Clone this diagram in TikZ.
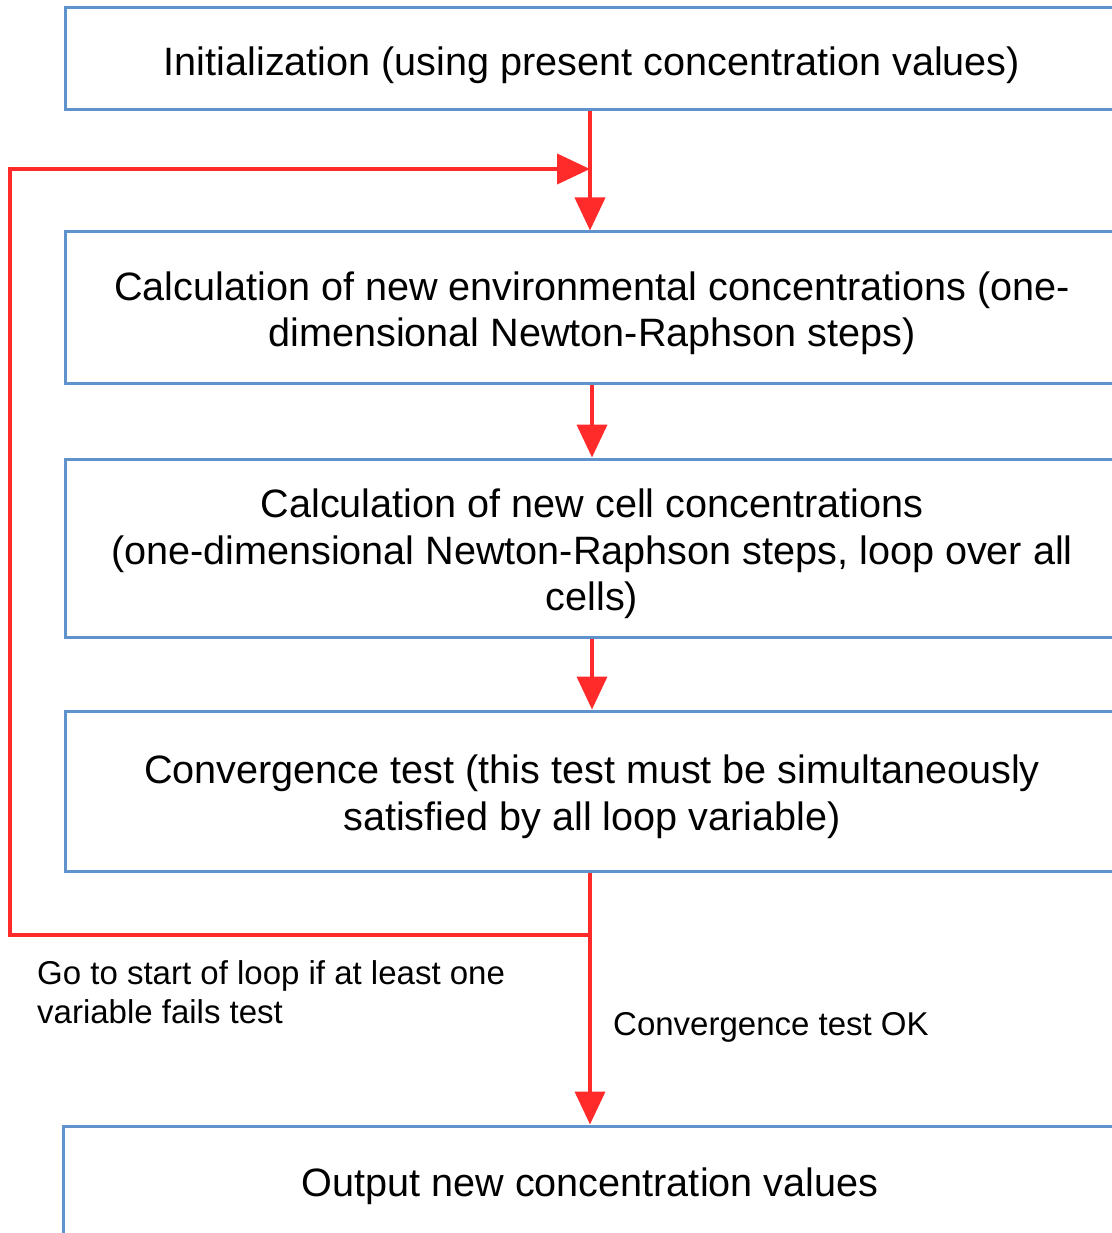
\documentclass[tikz,border=0pt]{standalone}
\usepackage{fontspec}
\setmainfont{Liberation Sans}
\usetikzlibrary{arrows.meta}

\definecolor{boxblue}{RGB}{96,146,203}
\definecolor{flowred}{RGB}{255,42,42}

\tikzset{
  stepbox/.style={draw=boxblue, line width=3pt, minimum width=1054pt, inner sep=0pt},
  steptext/.style={inner sep=0pt, align=center, yshift=-6pt,
    font=\fontsize{39.6}{46.5}\selectfont},
  flow/.style={draw=flowred, line width=4pt, -{Triangle[width=30pt,length=33pt]}},
  note/.style={inner sep=0pt, align=left, font=\fontsize{33}{39.5}\selectfont}
}

\begin{document}
\begin{tikzpicture}[x=1pt,y=-1pt]
        \useasboundingbox (0,0) rectangle (1111,1233);
        % boxes
        \node[stepbox, minimum height=102pt] (init) at (592,59) {};
        \node[stepbox, minimum height=151pt] (envconc) at (592,307.5) {};
        \node[stepbox, minimum height=178pt] (cellconc) at (592,548) {};
        \node[stepbox, minimum height=160pt] (convtest) at (592,791) {};
        \node[stepbox, minimum height=108pt] (output) at (590,1180) {};
        % box texts
        \node[steptext] (inittext) at (init)
              {Initialization (using present concentration values)};
        \node[steptext] (envconctext) at (envconc)
              {Calculation of new environmental concentrations (one-\\dimensional Newton-Raphson steps)};
        \node[steptext] (cellconctext) at (cellconc)
              {Calculation of new cell concentrations\\(one-dimensional Newton-Raphson steps, loop over all\\cells)};
        \node[steptext] (convtesttext) at (convtest)
              {Convergence test (this test must be simultaneously\\satisfied by all loop variable)};
        \node[steptext] (outputtext) at (output)
              {Output new concentration values};
        % loop corners
        \coordinate (split) at (590,935);
        \coordinate (entry) at (590,169);
        \coordinate (loopbl) at (10,935);
        \coordinate (looptl) at (10,169);
        % connectors
        \draw[flow] (init.south -| entry) -- (envconc.north -| entry);
        \draw[flow] (envconc) -- (cellconc);
        \draw[flow] (cellconc) -- (convtest);
        \draw[flow] (convtest.south -| split) -- (output.north -| split);
        \draw[flow] (split) -- (loopbl) -- (looptl) -- (entry);
        % labels
        \node[note, anchor=north west] (failnote) at (37,960)
              {Go to start of loop if at least one\\variable fails test};
        \node[note, anchor=base west] (oknote) at (613,1035) {Convergence test OK};
\end{tikzpicture}
\end{document}
